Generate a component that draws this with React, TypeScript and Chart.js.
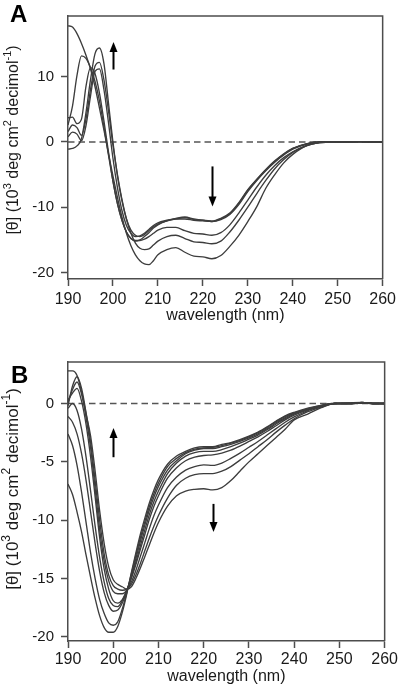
import React, { useEffect, useRef } from "react";
import { Chart, registerables } from "chart.js";

Chart.register(...registerables);

// ---------- data ----------
const WAVELENGTH = [
  190, 191, 192, 193, 194, 195, 196, 197, 198, 199, 200, 201, 202, 203, 204, 205, 206, 207, 208, 209, 210,
  212, 214, 216, 218, 220, 222, 224, 226, 228, 230, 232, 234, 236, 238, 240,
  243, 246, 249, 252, 255, 258, 260,
];

// Panel A spectra
const A1 = [
  17.8, 17.6, 16.6, 15.1, 13.3, 11.2, 8.5, 5.2, 1.8, -1.8, -5.2, -8.5, -11.5, -14.0, -15.9, -17.3, -18.2, -18.7, -18.8, -18.2, -17.3,
  -16.5, -16.2, -16.9, -17.5, -17.6, -17.9, -17.4, -16.0, -14.3, -12.2, -9.9, -7.1, -5.0, -3.2, -1.9,
  -0.6, -0.1, 0, 0, 0.05, 0, 0,
];
const A2 = [
  1.6, 2.6, 2.2, 1.0, 3.5, 8.0, 11.6, 12.2, 9.5, 4.8, -0.5, -5.0, -8.8, -11.8, -14.0, -15.5, -16.3, -16.5, -16.4, -15.8, -15.2,
  -14.5, -14.3, -14.8, -15.3, -15.4, -15.6, -15.2, -13.8, -12.0, -10.0, -7.9, -5.9, -4.1, -2.7, -1.6,
  -0.6, -0.1, 0, 0, 0.05, 0, 0,
];
const A3 = [
  2.6, 5.5, 10.2, 13.2, 12.8, 11.4, 9.3, 6.3, 2.3, -2.0, -6.0, -9.4, -12.0, -13.8, -14.8, -15.1, -15.1, -14.9, -14.5, -14.0, -13.5,
  -13.1, -13.1, -13.6, -14.0, -14.1, -14.3, -13.9, -12.7, -10.9, -8.9, -6.9, -5.1, -3.6, -2.4, -1.5,
  -0.55, -0.1, 0, 0, 0.05, 0, 0,
];
const A4 = [
  -1.1, -1.0, -0.6, 0.5, 4.5, 9.5, 13.5, 14.4, 12.0, 6.0, 0.0, -5.2, -9.0, -11.8, -13.5, -14.3, -14.5, -14.2, -13.6, -13.0, -12.6,
  -12.1, -11.8, -11.6, -11.9, -12.0, -12.2, -11.8, -11.0, -9.4, -7.4, -5.8, -4.3, -3.0, -1.9, -1.0,
  -0.3, 0, 0, 0.05, 0, 0, 0,
];
const A5 = [
  3.7, 3.8, 2.8, 3.5, 8.5, 11.4, 10.5, 7.5, 3.2, -1.5, -6.0, -9.5, -12.0, -13.8, -14.8, -15.2, -15.0, -14.5, -13.9, -13.2, -12.7,
  -12.1, -11.8, -11.8, -12.0, -12.1, -12.2, -11.9, -11.1, -9.6, -7.6, -5.9, -4.4, -3.1, -2.0, -1.1,
  -0.35, 0, 0, 0, 0.05, 0, 0,
];
const A6 = [
  0.8, 1.5, 1.2, 0.2, 2.5, 7.0, 10.8, 11.2, 8.0, 3.0, -2.5, -7.0, -10.5, -12.8, -14.0, -14.5, -14.4, -14.0, -13.4, -12.8, -12.4,
  -12.0, -11.7, -11.5, -11.8, -12.0, -12.1, -11.7, -10.9, -9.3, -7.3, -5.7, -4.2, -2.9, -1.8, -1.0,
  -0.3, 0.05, 0, 0, 0.05, 0, 0,
];

// Panel B spectra
const B0 = [
  -6.9, -7.8, -9.3, -11.0, -13.0, -14.9, -16.7, -18.2, -19.2, -19.6, -19.6, -19.1, -17.9, -16.3, -14.5, -12.8, -11.2, -9.8, -8.5, -7.4, -6.5,
  -5.2, -4.5, -4.1, -3.8, -3.7, -3.7, -3.5, -3.35, -3.1, -2.8, -2.45, -2.0, -1.5, -1.05, -0.75,
  -0.4, -0.15, 0, 0, 0.1, 0, 0,
];
const B1 = [
  -2.6, -3.6, -5.3, -7.6, -10.2, -12.8, -15.0, -16.8, -18.0, -18.8, -19.0, -18.7, -17.6, -16.2, -14.6, -13.0, -11.5, -10.1, -8.8, -7.7, -6.8,
  -5.4, -4.7, -4.2, -3.9, -3.8, -3.75, -3.6, -3.4, -3.15, -2.85, -2.5, -2.05, -1.55, -1.1, -0.8,
  -0.45, -0.15, 0, 0.05, 0.1, 0, 0,
];
const B2 = [
  -1.1, -1.6, -2.6, -4.3, -6.6, -9.3, -12.0, -14.4, -16.2, -17.3, -17.8, -17.7, -17.1, -16.1, -14.8, -13.3, -11.8, -10.4, -9.1, -8.0, -7.1,
  -5.7, -4.9, -4.3, -4.0, -3.85, -3.85, -3.7, -3.5, -3.25, -2.95, -2.6, -2.15, -1.65, -1.2, -0.85,
  -0.5, -0.2, 0, 0, 0.1, 0, 0,
];
const B3 = [
  -0.4, 0.0, -0.6, -2.2, -4.6, -7.5, -10.5, -13.2, -15.3, -16.7, -17.3, -17.4, -16.9, -16.0, -14.9, -13.6, -12.2, -10.8, -9.5, -8.4, -7.5,
  -6.0, -5.1, -4.5, -4.2, -4.1, -4.1, -3.95, -3.7, -3.4, -3.05, -2.7, -2.25, -1.75, -1.3, -0.9,
  -0.5, -0.2, 0, 0, 0.05, 0, 0,
];
const B4 = [
  0.3, 0.9, 1.3, 0.2, -1.8, -4.6, -8.0, -11.5, -14.2, -15.9, -16.9, -17.1, -16.8, -16.0, -15.0, -13.8, -12.5, -11.2, -9.9, -8.8, -7.9,
  -6.4, -5.5, -4.9, -4.6, -4.45, -4.4, -4.25, -4.0, -3.65, -3.25, -2.85, -2.4, -1.9, -1.4, -1.0,
  -0.55, -0.2, 0, 0, 0.05, 0, 0,
];
const B5 = [
  0.1, 1.2, 1.85, 0.8, -1.2, -3.8, -7.3, -10.8, -13.5, -15.2, -16.1, -16.3, -16.3, -16.0, -15.3, -14.3, -13.1, -11.9, -10.7, -9.6, -8.7,
  -7.2, -6.3, -5.7, -5.4, -5.25, -5.3, -5.1, -4.7, -4.25, -3.75, -3.25, -2.7, -2.15, -1.6, -1.15,
  -0.6, -0.25, 0, 0, 0.05, 0, 0,
];
const B6 = [
  -0.2, 1.5, 2.3, 1.3, -0.8, -3.3, -6.6, -10.0, -12.9, -14.7, -15.6, -15.9, -16.0, -15.9, -15.5, -14.7, -13.7, -12.6, -11.5, -10.5, -9.6,
  -8.1, -7.0, -6.4, -6.1, -6.0, -6.0, -5.8, -5.4, -4.85, -4.3, -3.7, -3.1, -2.45, -1.85, -1.3,
  -0.7, -0.3, 0, 0, 0.05, 0, 0,
];
const B7 = [
  2.8, 2.8, 2.4, 1.0, -0.9, -2.8, -5.8, -9.2, -12.0, -14.0, -15.1, -15.5, -15.7, -15.9, -15.7, -15.0, -14.1, -13.1, -12.1, -11.1, -10.2,
  -8.8, -7.9, -7.5, -7.35, -7.3, -7.4, -7.2, -6.6, -5.8, -5.0, -4.3, -3.6, -2.9, -2.2, -1.4,
  -0.9, -0.35, 0, 0, 0.05, 0, 0,
];

const SERIES_A = [A1, A2, A3, A4, A5, A6];
const SERIES_B = [B0, B1, B2, B3, B4, B5, B6, B7];

const X_TICKS = [190, 200, 210, 220, 230, 240, 250, 260];
const Y_TICKS_A = [-20, -10, 0, 10];
const Y_TICKS_B = [-20, -15, -10, -5, 0];
const ZERO_X = [190, 260];
const ZERO_Y = [0, 0];

// arrows: wavelength, start value, tip value
const ARROWS_A = [
  { x: 200, from: 11.1, to: 15.3 },
  { x: 222, from: -3.75, to: -9.9 },
];
const ARROWS_B = [
  { x: 200, from: -4.6, to: -2.1 },
  { x: 222, from: -8.6, to: -11.0 },
];

const X_TITLE = "wavelength (nm)";
// [text, isSuperscript]
const Y_TITLE_PARTS: [string, boolean][] = [
  ["[θ] (10", false],
  ["3", true],
  [" deg cm", false],
  ["2", true],
  [" decimol", false],
  ["-1", true],
  [")", false],
];

// ---------- styling ----------
const FONT = '"Liberation Sans", Arial, Helvetica, sans-serif';
const TEXT = "#1a1a1a";
const FRAME = "#4d4d4d";
const CURVE = "#3d3d3d";

const decorPlugin = {
  id: "decor",
  afterDraw(chart: any, _args: any, opts: any) {
    const { ctx, chartArea: ca, scales } = chart;
    ctx.save();
    // top + right frame
    ctx.strokeStyle = FRAME;
    ctx.lineWidth = 1.5;
    ctx.beginPath();
    ctx.moveTo(ca.left, ca.top);
    ctx.lineTo(ca.right, ca.top);
    ctx.lineTo(ca.right, ca.bottom);
    ctx.stroke();

    // arrows
    for (const a of opts.arrows) {
      const x = Math.round(scales.x.getPixelForValue(a.x)) + 0.5;
      const y0 = scales.y.getPixelForValue(a.from);
      const y1 = scales.y.getPixelForValue(a.to);
      const dir = Math.sign(y1 - y0);
      const headLen = 10;
      const headW = 4;
      ctx.strokeStyle = "#000";
      ctx.lineWidth = 2;
      ctx.beginPath();
      ctx.moveTo(x, y0);
      ctx.lineTo(x, y1 - dir * headLen + dir);
      ctx.stroke();
      ctx.fillStyle = "#000";
      ctx.beginPath();
      ctx.moveTo(x, y1);
      ctx.lineTo(x - headW, y1 - dir * headLen);
      ctx.lineTo(x + headW, y1 - dir * headLen);
      ctx.closePath();
      ctx.fill();
    }

    // panel letter
    ctx.fillStyle = "#000";
    ctx.font = `bold 24px ${FONT}`;
    ctx.textAlign = "left";
    ctx.textBaseline = "alphabetic";
    ctx.fillText(opts.letter, opts.letterX, opts.letterY);

    // rotated y title with superscripts
    const main = `${opts.titleSize}px ${FONT}`;
    const sup = `${Math.round(opts.titleSize * 0.68)}px ${FONT}`;
    let total = 0;
    const widths = Y_TITLE_PARTS.map(([t, s]) => {
      ctx.font = s ? sup : main;
      const w = ctx.measureText(t).width;
      total += w;
      return w;
    });
    ctx.translate(opts.titleX, opts.titleY);
    ctx.rotate(-Math.PI / 2);
    ctx.fillStyle = TEXT;
    let u = -total / 2;
    Y_TITLE_PARTS.forEach(([t, s], i) => {
      ctx.font = s ? sup : main;
      ctx.fillText(t, u, s ? -opts.titleSize * 0.42 : 0);
      u += widths[i];
    });
    ctx.restore();
  },
};

function buildConfig(p: {
  series: number[][];
  yMin: number;
  yMax: number;
  yTicks: number[];
  padTop: number;
  xAxisHeight: number;
  xLabelPad: number;
  xTitlePad: number;
  decor: any;
}) {
  const datasets: any[] = p.series.map((s) => ({
    data: WAVELENGTH.map((w, i) => ({ x: w, y: s[i] })),
    borderColor: CURVE,
    borderWidth: 1.35,
    pointRadius: 0,
    cubicInterpolationMode: "monotone",
    fill: false,
  }));
  datasets.push({
    data: ZERO_X.map((w, i) => ({ x: w, y: ZERO_Y[i] })),
    borderColor: "#555",
    borderWidth: 1.5,
    borderDash: [6.5, 4],
    pointRadius: 0,
    fill: false,
  });
  return {
    type: "line",
    data: { datasets },
    plugins: [decorPlugin],
    options: {
      animation: false,
      responsive: false,
      events: [],
      layout: { padding: { left: 0, right: 12, top: p.padTop, bottom: 0 } },
      plugins: {
        legend: { display: false },
        tooltip: { enabled: false },
        decor: p.decor,
      },
      scales: {
        x: {
          type: "linear",
          min: 190,
          max: 260,
          afterBuildTicks: (axis: any) => {
            axis.ticks = X_TICKS.map((v) => ({ value: v }));
          },
          afterFit: (axis: any) => {
            axis.height = p.xAxisHeight;
          },
          ticks: {
            font: { family: FONT, size: 16 },
            color: TEXT,
            padding: p.xLabelPad,
            maxRotation: 0,
            autoSkip: false,
          },
          grid: {
            drawOnChartArea: false,
            tickLength: 7,
            tickColor: FRAME,
            tickWidth: 1.5,
          },
          border: { display: true, color: FRAME, width: 1.5 },
          title: {
            display: true,
            text: X_TITLE,
            font: { family: FONT, size: 16 },
            color: TEXT,
            padding: { top: 0, bottom: p.xTitlePad },
          },
        },
        y: {
          type: "linear",
          min: p.yMin,
          max: p.yMax,
          afterBuildTicks: (axis: any) => {
            axis.ticks = p.yTicks.map((v) => ({ value: v }));
          },
          afterFit: (axis: any) => {
            axis.width = 68;
          },
          ticks: {
            font: { family: FONT, size: 15 },
            color: TEXT,
            padding: 7,
          },
          grid: {
            drawOnChartArea: false,
            tickLength: 7,
            tickColor: FRAME,
            tickWidth: 1.5,
          },
          border: { display: true, color: FRAME, width: 1.5 },
        },
      },
    },
  };
}

export default function App() {
  const refA = useRef<HTMLCanvasElement>(null);
  const refB = useRef<HTMLCanvasElement>(null);

  useEffect(() => {
    const chartA = new Chart(
      refA.current as HTMLCanvasElement,
      buildConfig({
        series: SERIES_A,
        yMin: -21,
        yMax: 19.3,
        yTicks: Y_TICKS_A,
        padTop: 1,
        xAxisHeight: 61,
        xLabelPad: 4,
        xTitlePad: 15,
        decor: {
          arrows: ARROWS_A,
          letter: "A",
          letterX: 10,
          letterY: 22,
          titleX: 17.5,
          titleY: 140,
          titleSize: 16,
        },
      }) as any
    );
    const chartB = new Chart(
      refB.current as HTMLCanvasElement,
      buildConfig({
        series: SERIES_B,
        yMin: -20.35,
        yMax: 3.56,
        yTicks: Y_TICKS_B,
        padTop: 22,
        xAxisHeight: 46,
        xLabelPad: 2,
        xTitlePad: 1,
        decor: {
          arrows: ARROWS_B,
          letter: "B",
          letterX: 11,
          letterY: 43,
          titleX: 17.5,
          titleY: 149,
          titleSize: 17,
        },
      }) as any
    );
    return () => {
      chartA.destroy();
      chartB.destroy();
    };
  }, []);

  return (
    <div style={{ position: "absolute", left: 0, top: 0, width: 400, height: 687, background: "#fff" }}>
      <canvas ref={refA} width={400} height={340} style={{ position: "absolute", left: 0, top: 0 }} />
      <canvas ref={refB} width={400} height={347} style={{ position: "absolute", left: 0, top: 340 }} />
    </div>
  );
}
